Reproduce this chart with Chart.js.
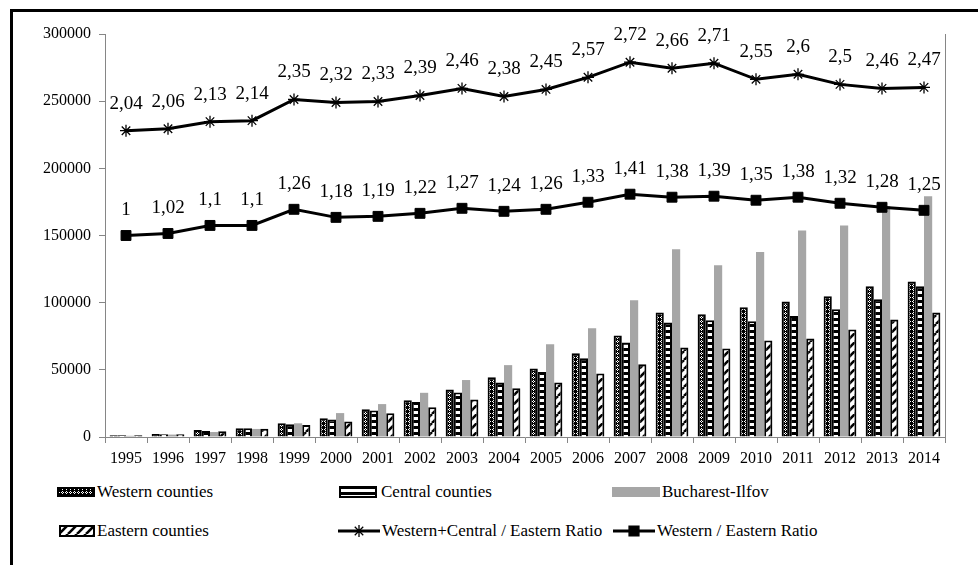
<!DOCTYPE html>
<html>
<head>
<meta charset="utf-8">
<script src="https://cdn.jsdelivr.net/npm/chart.js@4.4.1/dist/chart.umd.min.js"></script>
<style>
  html, body { margin: 0; padding: 0; background: #fff; }
  #wrap { position: relative; width: 978px; height: 565px; overflow: hidden;
          font-family: "Liberation Serif", "DejaVu Serif", "Times New Roman", Times, serif; }
  #frame { position: absolute; left: 10px; top: 9px; width: 990px; height: 600px;
           border: 3px solid #000; box-sizing: border-box; }
  #chart { position: absolute; left: 0; top: 0; }
  .lg { position: absolute; font-size: 17px; line-height: 20px; color: #000; white-space: nowrap; }
  .sw { position: absolute; }
</style>
</head>
<body>
<div id="wrap">
  <div id="frame"></div>
  <canvas id="chart" width="978" height="470"></canvas>

  <canvas class="sw" id="swW" width="38" height="10" style="left:57px;top:487px"></canvas>
  <div class="lg" style="left:97px;top:482px">Western counties</div>
  <canvas class="sw" id="swC" width="38" height="12" style="left:339px;top:486px"></canvas>
  <div class="lg" style="left:381px;top:482px">Central counties</div>
  <canvas class="sw" id="swB" width="48" height="10" style="left:612px;top:487px"></canvas>
  <div class="lg" style="left:662px;top:482px">Bucharest-Ilfov</div>

  <canvas class="sw" id="swE" width="36" height="12" style="left:59px;top:525px"></canvas>
  <div class="lg" style="left:97px;top:521px">Eastern counties</div>
  <canvas class="sw" id="swR1" width="42" height="14" style="left:338px;top:524px"></canvas>
  <div class="lg" style="left:382px;top:521px">Western+Central / Eastern Ratio</div>
  <canvas class="sw" id="swR2" width="42" height="14" style="left:613px;top:524px"></canvas>
  <div class="lg" style="left:657px;top:521px">Western / Eastern Ratio</div>
</div>

<script>
/* =========================
   DATA
========================= */
const years = ["1995", "1996", "1997", "1998", "1999", "2000", "2001", "2002", "2003", "2004",
               "2005", "2006", "2007", "2008", "2009", "2010", "2011", "2012", "2013", "2014"];

const western   = [1300, 2200, 5200, 6500, 10200, 13900, 20600, 27300, 35400, 44400,
                   51000, 62400, 75600, 92600, 91400, 96600, 100800, 104800, 112200, 115700];
const central   = [1300, 2100, 4500, 6500, 9400, 13100, 19800, 26000, 33200, 40600,
                   48300, 58700, 70400, 85200, 86900, 86200, 90100, 95100, 102500, 112200];
const bucharest = [900, 1800, 3700, 6000, 10200, 17800, 24500, 32900, 42400, 53500,
                   69100, 81000, 101800, 139700, 127800, 137700, 153800, 157500, 172000, 179300];
const eastern   = [1300, 2000, 4200, 6200, 9000, 11600, 17600, 22100, 28000, 36200,
                   40600, 47300, 54200, 66600, 65900, 71800, 73300, 80000, 87400, 92600];

const ratioWestCentral = [2.04, 2.06, 2.13, 2.14, 2.35, 2.32, 2.33, 2.39, 2.46, 2.38,
                          2.45, 2.57, 2.72, 2.66, 2.71, 2.55, 2.6, 2.5, 2.46, 2.47];
const ratioWest        = [1, 1.02, 1.1, 1.1, 1.26, 1.18, 1.19, 1.22, 1.27, 1.24,
                          1.26, 1.33, 1.41, 1.38, 1.39, 1.35, 1.38, 1.32, 1.28, 1.25];

const FONT = '"Liberation Serif", "DejaVu Serif", "Times New Roman", Times, serif';

/* =========================
   PATTERNS
========================= */
function makeTile(w, h, draw) {
  const c = document.createElement("canvas");
  c.width = w; c.height = h;
  draw(c.getContext("2d"), w, h);
  return c;
}

const westernTile = makeTile(4, 4, (g) => {
  g.fillStyle = "#000"; g.fillRect(0, 0, 4, 4);
  g.fillStyle = "#fff";
  g.fillRect(1, 0, 1, 1); g.fillRect(0, 1, 1, 1);
  g.fillRect(2, 1, 1, 1); g.fillRect(1, 2, 1, 1);
});

const centralTile = makeTile(4, 6, (g) => {
  g.fillStyle = "#fff"; g.fillRect(0, 0, 4, 6);
  g.fillStyle = "#000"; g.fillRect(0, 0, 4, 3);
});

const easternTile = makeTile(9, 9, (g) => {
  g.fillStyle = "#fff"; g.fillRect(0, 0, 9, 9);
  g.strokeStyle = "#000"; g.lineWidth = 2.6;
  [-9, 0, 9].forEach(o => {
    g.beginPath(); g.moveTo(o, 9); g.lineTo(o + 9, 0); g.stroke();
  });
});

const GRAY = "#a6a6a6";
const mainCtx = document.getElementById("chart").getContext("2d");
const westernFill = mainCtx.createPattern(westernTile, "repeat");
const centralFill = mainCtx.createPattern(centralTile, "repeat");
const easternFill = mainCtx.createPattern(easternTile, "repeat");

/* =========================
   RATIO LABELS
========================= */
const ratioLabels = {
  id: "ratioLabels",
  afterDatasetsDraw(chart) {
    const ctx = chart.ctx;
    chart.data.datasets.forEach((ds, i) => {
      if (ds.type !== "line") return;
      const meta = chart.getDatasetMeta(i);
      ctx.save();
      ctx.font = "19px " + FONT;
      ctx.fillStyle = "#000";
      ctx.textAlign = "center";
      ctx.textBaseline = "middle";
      meta.data.forEach((pt, j) => {
        ctx.fillText(String(ds.data[j]).replace(".", ","), pt.x, pt.y - ds.labelOffset);
      });
      ctx.restore();
    });
  }
};

/* =========================
   CHART
========================= */
const axisGray = "#868686";

new Chart(mainCtx, {
  type: "bar",
  data: {
    labels: years,
    datasets: [
      { label: "Western counties", data: western, backgroundColor: westernFill,
        borderColor: "#000", borderWidth: 2, order: 1 },
      { label: "Central counties", data: central, backgroundColor: centralFill,
        borderColor: "#000", borderWidth: 2, order: 1 },
      { label: "Bucharest-Ilfov", data: bucharest, backgroundColor: GRAY,
        borderWidth: 0, order: 1 },
      { label: "Eastern counties", data: eastern, backgroundColor: easternFill,
        borderColor: "#000", borderWidth: 2, order: 1 },
      { type: "line", label: "Western+Central / Eastern Ratio", data: ratioWestCentral,
        yAxisID: "y1", borderColor: "#000", borderWidth: 3, tension: 0,
        pointStyle: "star", pointRadius: 6, pointBorderWidth: 1.3,
        pointBorderColor: "#000", pointBackgroundColor: "#000",
        labelOffset: 27, order: 0 },
      { type: "line", label: "Western / Eastern Ratio", data: ratioWest,
        yAxisID: "y1", borderColor: "#000", borderWidth: 3, tension: 0,
        pointStyle: "rect", pointRadius: 7, pointBorderWidth: 1,
        pointBorderColor: "#000", pointBackgroundColor: "#000",
        labelOffset: 25, order: 0 }
    ]
  },
  options: {
    responsive: false,
    animation: false,
    layout: { padding: { left: 30, right: 33, top: 34, bottom: 3 } },
    datasets: { bar: { categoryPercentage: 0.78, barPercentage: 1.0 } },
    plugins: { legend: { display: false }, tooltip: { enabled: false } },
    scales: {
      x: {
        offset: true,
        grid: { offset: true, drawOnChartArea: false, tickLength: 6, color: axisGray },
        border: { color: axisGray, width: 1 },
        ticks: { color: "#000", font: { family: FONT, size: 16 }, padding: 6,
                 maxRotation: 0, autoSkip: false },
        afterFit: (s) => { s.height = 30; }
      },
      y: {
        min: 0, max: 300000,
        grid: { drawOnChartArea: false, tickLength: 6, color: axisGray },
        border: { color: axisGray, width: 1 },
        ticks: { stepSize: 50000, color: "#000", font: { family: FONT, size: 16 },
                 padding: 8, callback: (v) => String(v) },
        afterFit: (s) => { s.width = 75; }
      },
      y1: {
        position: "right", min: -1, max: 3,
        grid: { drawOnChartArea: false, drawTicks: false },
        border: { color: axisGray, width: 1 },
        ticks: { display: false },
        afterFit: (s) => { s.width = 0; }
      }
    }
  },
  plugins: [ratioLabels]
});

/* =========================
   LEGEND SWATCHES
========================= */
function fillSwatch(id, fill, border) {
  const c = document.getElementById(id);
  const g = c.getContext("2d");
  g.fillStyle = typeof fill === "string" ? fill : g.createPattern(fill, "repeat");
  g.fillRect(0, 0, c.width, c.height);
  if (border) {
    g.strokeStyle = "#000"; g.lineWidth = 2;
    g.strokeRect(1, 1, c.width - 2, c.height - 2);
  }
}
fillSwatch("swW", westernTile, true);
fillSwatch("swC", centralTile, true);
fillSwatch("swB", GRAY, false);
fillSwatch("swE", easternTile, true);

function lineSwatch(id, style, radius) {
  const c = document.getElementById(id);
  const g = c.getContext("2d");
  g.strokeStyle = "#000"; g.fillStyle = "#000";
  g.lineWidth = 3;
  g.beginPath(); g.moveTo(0, c.height / 2); g.lineTo(c.width, c.height / 2); g.stroke();
  g.lineWidth = 1.3;
  Chart.helpers.drawPoint(g, { pointStyle: style, radius: radius, borderWidth: 1.3, rotation: 0 },
                          c.width / 2, c.height / 2);
}
lineSwatch("swR1", "star", 6);
lineSwatch("swR2", "rect", 7);
</script>
</body>
</html>
